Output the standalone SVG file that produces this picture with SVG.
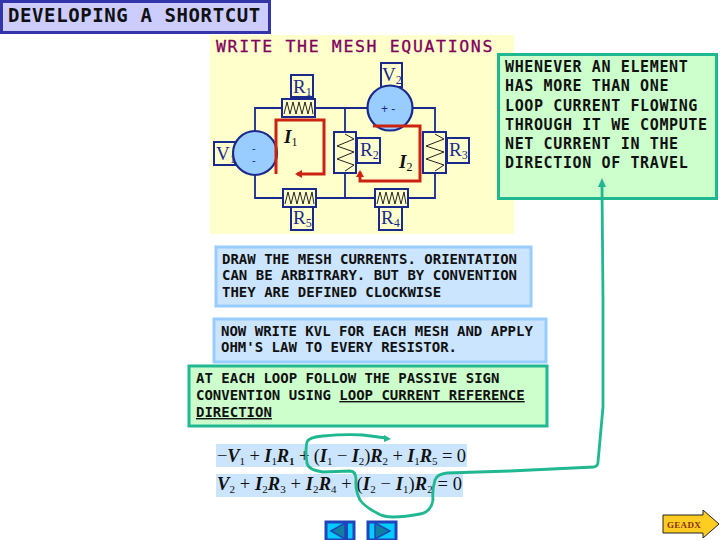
<svg xmlns="http://www.w3.org/2000/svg" width="720" height="540" viewBox="0 0 720 540">
<style>
.m{font-family:"DejaVu Sans Mono","Liberation Mono",monospace;font-weight:700;fill:#111;font-size:14px}
.w{fill:none;stroke:#1a2a8c;stroke-width:1.8}
.b{fill:#ffffcc;stroke:#1a2a8c;stroke-width:2}
.rs{fill:#ffffcc;stroke:#1a2a8c;stroke-width:2}
.z{fill:none;stroke:#222;stroke-width:1}
.s{fill:#99ccff;stroke:#1a2a8c;stroke-width:2.2}
.red{fill:none;stroke:#cc2211;stroke-width:3}
.l{font-family:"Liberation Serif",serif;font-size:19px;fill:#1a2a8c}
.sub{font-size:12px}
.blue{fill:#cce5ff;stroke:#99ccff;stroke-width:3}
.green{fill:#ccffcc;stroke:#20b890;stroke-width:3}
.eq{font-family:"Liberation Serif",serif;font-size:18.500px;fill:#111}
.eq .i{font-style:italic;font-weight:700}
.eq .n{font-size:11px}
.pen{fill:none;stroke:#20b890;stroke-width:2.8;stroke-linecap:round;stroke-linejoin:round}
.btn{fill:#00ccff;stroke:#2244bb;stroke-width:3}
.tri{fill:#1080a0;stroke:#2244bb;stroke-width:1.5}
</style>
<defs>
<marker id="ah" markerWidth="10" markerHeight="10" refX="5" refY="4" orient="auto" markerUnits="userSpaceOnUse"><path d="M0 0L7 4L0 8Z" fill="#cc2211"/></marker>
</defs>

<rect x="210" y="35" width="304" height="199" fill="#ffffcc"/>

<g id="title"><rect x="1.500" y="1.500" width="268" height="31" fill="#ccccff" stroke="#3333aa" stroke-width="3"/>
<text x="8" y="22" class="m" style="font-size:19px;letter-spacing:.6px">DEVELOPING A SHORTCUT</text></g>

<text x="216" y="52" style="font-family:'DejaVu Sans Mono',monospace;font-size:16.500px;letter-spacing:1.65px;fill:#800060;font-weight:400;stroke:#800060;stroke-width:.3">WRITE THE MESH EQUATIONS</text>

<g id="connectors">
<path class="w" d="M255 131V108H435V132M435 173V198H255V175M345 108V198"/>
</g>

<g id="R1"><rect class="b" x="291" y="75" width="22" height="22"/><text class="l" x="293" y="93">R<tspan class="sub" dy="3">1</tspan></text>
<rect class="rs" x="282" y="99" width="33" height="18"/><path class="z" d="M284 114L287 102L290 114L293 102L296 114L299 102L302 114L305 102L308 114L311 102L313 114"/></g>
<g id="V2"><rect class="b" x="381" y="63" width="21" height="24"/><text class="l" x="382" y="81">V<tspan class="sub" dy="3">2</tspan></text>
<circle class="s" cx="390" cy="108" r="22.500"/><text x="381" y="113" style="font-family:'Liberation Sans',sans-serif;font-size:12px;fill:#1a2a8c">+  -</text></g>
<g id="V1"><rect class="b" x="214" y="142" width="21" height="23"/><text class="l" x="216" y="160">V<tspan class="sub" dy="3">1</tspan></text>
<circle class="s" cx="255" cy="153" r="22"/><text x="252" y="152" style="font-family:'Liberation Sans',sans-serif;font-size:11px;fill:#1a2a8c">-</text><text x="252" y="164" style="font-family:'Liberation Sans',sans-serif;font-size:11px;fill:#1a2a8c">-</text></g>
<g id="R2"><rect class="rs" x="334" y="132" width="22" height="41"/><path class="z" d="M345 134L354 139L337 146L354 152L337 159L354 165L345 171"/>
<rect class="b" x="357" y="138" width="23" height="25"/><text class="l" x="360" y="156">R<tspan class="sub" dy="3">2</tspan></text></g>
<g id="R3"><rect class="rs" x="423" y="132" width="23" height="41"/><path class="z" d="M435 134L444 139L426 146L444 152L426 159L444 165L435 171"/>
<rect class="b" x="447" y="138" width="22" height="25"/><text class="l" x="449" y="156">R<tspan class="sub" dy="3">3</tspan></text></g>
<g id="R5"><rect class="rs" x="283" y="189" width="33" height="18"/><path class="z" d="M285 204L288 192L291 204L294 192L297 204L300 192L303 204L306 192L309 204L312 192L314 204"/>
<rect class="b" x="291" y="207" width="22" height="23"/><text class="l" x="293" y="224">R<tspan class="sub" dy="3">5</tspan></text></g>
<g id="R4"><rect class="rs" x="375" y="189" width="33" height="18"/><path class="z" d="M377 204L380 192L383 204L386 192L389 204L392 192L395 204L398 192L401 204L404 192L406 204"/>
<rect class="b" x="379" y="207" width="23" height="23"/><text class="l" x="381" y="224">R<tspan class="sub" dy="3">4</tspan></text></g>

<g id="mesh-currents">
<path class="red" d="M276 174V120H324V174H297" marker-end="url(#ah)"/>
<path class="red" d="M373 126H420V181H360V172" marker-end="url(#ah)"/>
<text x="284" y="143" style="font-family:'Liberation Serif',serif;font-size:19px;font-weight:700;font-style:italic;fill:#111">I<tspan font-size="12" font-style="normal" font-weight="400" dy="3">1</tspan></text>
<text x="399" y="168" style="font-family:'Liberation Serif',serif;font-size:19px;font-weight:700;font-style:italic;fill:#111">I<tspan font-size="12" font-style="normal" font-weight="400" dy="3">2</tspan></text>
</g>

<g id="note-element"><rect class="green" x="498.500" y="54.500" width="218" height="144"/>
<g class="m" style="font-size:15px;letter-spacing:.62px"><text x="505" y="72">WHENEVER AN ELEMENT</text><text x="505" y="91">HAS MORE THAN ONE</text><text x="505" y="111">LOOP CURRENT FLOWING</text><text x="505" y="130">THROUGH IT WE COMPUTE</text><text x="505" y="149">NET CURRENT IN THE</text><text x="505" y="168">DIRECTION OF TRAVEL</text></g></g>

<g id="note-draw"><rect class="blue" x="216" y="247" width="315" height="59"/>
<g class="m"><text x="222" y="264">DRAW THE MESH CURRENTS. ORIENTATION</text><text x="222" y="280">CAN BE ARBITRARY. BUT BY CONVENTION</text><text x="222" y="297">THEY ARE DEFINED CLOCKWISE</text></g></g>

<g id="note-kvl"><rect class="blue" x="214" y="319" width="332" height="43"/>
<g class="m"><text x="221" y="336">NOW WRITE KVL FOR EACH MESH AND APPLY</text><text x="221" y="352">OHM'S LAW TO EVERY RESISTOR.</text></g></g>

<g id="note-sign"><rect class="green" x="189" y="366" width="358" height="60"/>
<g class="m"><text x="196" y="383">AT EACH LOOP FOLLOW THE PASSIVE SIGN</text><text x="196" y="400">CONVENTION USING <tspan text-decoration="underline">LOOP CURRENT REFERENCE</tspan></text><text x="196" y="417" text-decoration="underline">DIRECTION</text></g></g>

<g id="equations">
<rect x="216" y="444" width="251" height="23" fill="#cce5ff"/>
<rect x="216" y="474" width="247" height="23" fill="#cce5ff"/>
<text class="eq" x="217" y="462" textLength="249" lengthAdjust="spacing">−<tspan class="i">V</tspan><tspan class="n" dy="3">1</tspan><tspan dy="-3"> + </tspan><tspan class="i">I</tspan><tspan class="n" dy="3">1</tspan><tspan class="i" dy="-3">R</tspan><tspan class="n" font-weight="700" dy="3">1</tspan><tspan dy="-3"> + (</tspan><tspan class="i">I</tspan><tspan class="n" dy="3">1</tspan><tspan dy="-3"> − </tspan><tspan class="i">I</tspan><tspan class="n" dy="3">2</tspan><tspan dy="-3">)</tspan><tspan class="i">R</tspan><tspan class="n" dy="3">2</tspan><tspan dy="-3"> + </tspan><tspan class="i">I</tspan><tspan class="n" dy="3">1</tspan><tspan class="i" dy="-3">R</tspan><tspan class="n" dy="3">5</tspan><tspan dy="-3"> = 0</tspan></text>
<text class="eq" x="217" y="490" textLength="245" lengthAdjust="spacing"><tspan class="i">V</tspan><tspan class="n" dy="3">2</tspan><tspan dy="-3"> + </tspan><tspan class="i">I</tspan><tspan class="n" dy="3">2</tspan><tspan class="i" dy="-3">R</tspan><tspan class="n" dy="3">3</tspan><tspan dy="-3"> + </tspan><tspan class="i">I</tspan><tspan class="n" dy="3">2</tspan><tspan class="i" dy="-3">R</tspan><tspan class="n" dy="3">4</tspan><tspan dy="-3"> + (</tspan><tspan class="i">I</tspan><tspan class="n" dy="3">2</tspan><tspan dy="-3"> − </tspan><tspan class="i">I</tspan><tspan class="n" dy="3">1</tspan><tspan dy="-3">)</tspan><tspan class="i">R</tspan><tspan class="n" dy="3">2</tspan><tspan dy="-3"> = 0</tspan></text>
</g>

<g id="pen-annotation">
<path class="pen" d="M602 187L603 300L603 407L600 440L598 462Q598 466 594 467L510 471L447 473Q437 474 435 480Q432 490 433 500Q431 512 420 514Q405 517 393 517Q383 517 377 513Q365 507 360 500Q355 490 356 480Q356 471 350 471L323 472Q308 470 307 463Q305 450 307 442Q309 437 323 436Q345 434 363 435L386 438"/>
<path d="M602 178L606 187H598Z" fill="#20b890"/>
<path d="M391 439L384 435L384 442Z" fill="#20b890"/>
</g>

<g id="btn-back"><rect class="btn" x="326" y="522" width="28" height="18"/><path class="tri" d="M331 531L345 523V539Z"/><rect x="345" y="523" width="3" height="16" fill="#2244bb"/></g>
<g id="btn-next"><rect class="btn" x="368" y="522" width="28" height="18"/><path class="tri" d="M375 523L390 531L375 539Z"/></g>

<g id="btn-ready"><path d="M663 515H703V510L719 524L703 538V533H663Z" fill="#ffcc22" stroke="#222" stroke-width="1"/>
<text x="667" y="528" style="font-family:'Liberation Serif',serif;font-size:9px;font-weight:700;fill:#883311;letter-spacing:.3px">GEADX</text></g>
</svg>
